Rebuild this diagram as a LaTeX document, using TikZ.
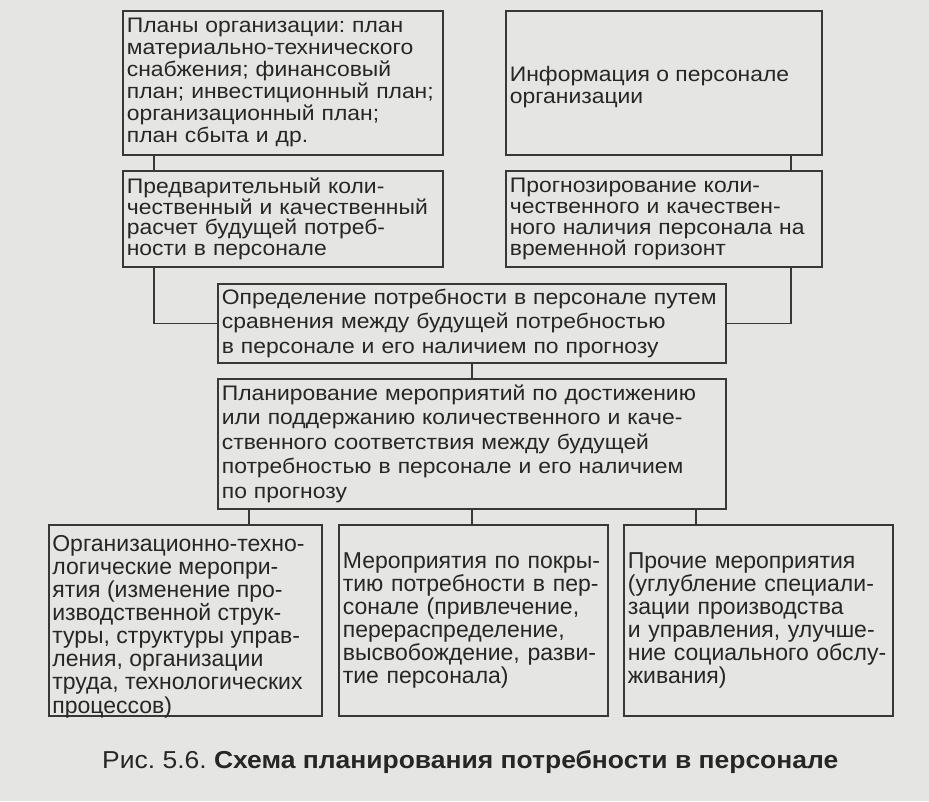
\documentclass[tikz,border=0pt]{standalone}
\usepackage{fontspec}
\setmainfont{Liberation Sans}
\newfontfamily\wideA[FakeStretch=1.09]{Liberation Sans}
\newfontfamily\wideC[FakeStretch=1.08]{Liberation Sans}
\frenchspacing
\definecolor{paper}{HTML}{E5E5E3}
\definecolor{ink}{HTML}{262626}
\definecolor{rule}{HTML}{383838}
\tikzset{
  box/.style={draw=rule, line width=1.7pt, rectangle, anchor=north west, inner sep=0pt,
    text=ink, align=left},
  topbox/.style={box, font=\wideA\fontsize{21}{22}\selectfont},
  midbox/.style={box, font=\wideA\fontsize{21}{24.5}\selectfont},
  lowbox/.style={box, font=\fontsize{23}{23.1}\selectfont},
  link/.style={draw=rule, line width=1.7pt},
}
\begin{document}
\begin{tikzpicture}[x=1pt,y=-1pt]
\fill[paper] (0,0) rectangle (929,801);
\useasboundingbox (0,0) rectangle (929,801);

\node[topbox, minimum width=320pt, minimum height=144pt, text width=312pt] (b1) at (122,10)
  {Планы организации: план\\ материально-технического\\ снабжения; финансовый\\ план; инвестиционный план;\\ организационный план;\\ план сбыта и др.};
\node[topbox, minimum width=316pt, minimum height=144pt] (b2) at (505,10)
  {\parbox[c]{308pt}{\vspace*{8pt}\raggedright Информация о персонале\\ организации}};
\node[topbox, minimum width=320pt, minimum height=96pt, text width=312pt,
  font=\wideA\fontsize{21}{20.8}\selectfont] (b3) at (122,170)
  {Предварительный коли-\\ чественный и качественный\\ расчет будущей потреб-\\ ности в персонале};
\node[topbox, minimum width=316pt, minimum height=96pt, text width=308pt,
  font=\wideA\fontsize{21}{20.8}\selectfont] (b4) at (505,170)
  {Прогнозирование коли-\\ чественного и качествен-\\ ного наличия персонала на\\ временной горизонт};
\node[midbox, minimum width=508pt, minimum height=79pt, text width=500pt] (b5) at (217,283)
  {Определение потребности в персонале путем\\ сравнения между будущей потребностью\\ в персонале и его наличием по прогнозу};
\node[midbox, minimum width=508pt, minimum height=130pt, text width=500pt] (b6) at (217,378)
  {Планирование мероприятий по достижению\\ или поддержанию количественного и каче-\\ ственного соответствия между будущей\\ потребностью в персонале и его наличием\\ по прогнозу};
\node[lowbox, minimum width=273pt, minimum height=191pt] (b7) at (48,524)
  {\parbox[c][191pt][b]{266pt}{\raggedright Организационно-техно-\\ логические меропри-\\ ятия (изменение про-\\ изводственной струк-\\ туры, структуры управ-\\ ления, организации\\ труда, технологических\\ процессов)\vspace{-2pt}}};
\node[lowbox, minimum width=269pt, minimum height=191pt, text width=261pt] (b8) at (338,524)
  {Мероприятия по покры-\\ тию потребности в пер-\\ сонале (привлечение,\\ перераспределение,\\ высвобождение, разви-\\ тие персонала)};
\node[lowbox, minimum width=269pt, minimum height=191pt, text width=261pt] (b9) at (623,524)
  {Прочие мероприятия\\ (углубление специали-\\ зации производства\\ и управления, улучше-\\ ние социального обслу-\\ живания)};

\draw[link] ([xshift=32pt]b1.south west) -- ([xshift=32pt]b3.north west);
\draw[link] ([xshift=32pt]b3.south west) |- (b5.west);
\draw[link] ([xshift=-32pt]b2.south east) -- ([xshift=-32pt]b4.north east);
\draw[link] ([xshift=-32pt]b4.south east) |- (b5.east);
\draw[link] (b5.south) -- (b6.north);
\draw[link] ([xshift=32pt]b6.south west) -- ([xshift=32pt]b6.south west |- b7.north);
\draw[link] (b6.south) -- (b6.south |- b8.north);
\draw[link] ([xshift=-31pt]b6.south east) -- ([xshift=-31pt]b6.south east |- b9.north);

\node[text=ink, font=\wideC\fontsize{24.5}{26}\selectfont, anchor=west, inner sep=0pt] (cap) at (102,762)
  {Рис. 5.6. \textbf{Схема планирования потребности в персонале}};
\end{tikzpicture}
\end{document}
